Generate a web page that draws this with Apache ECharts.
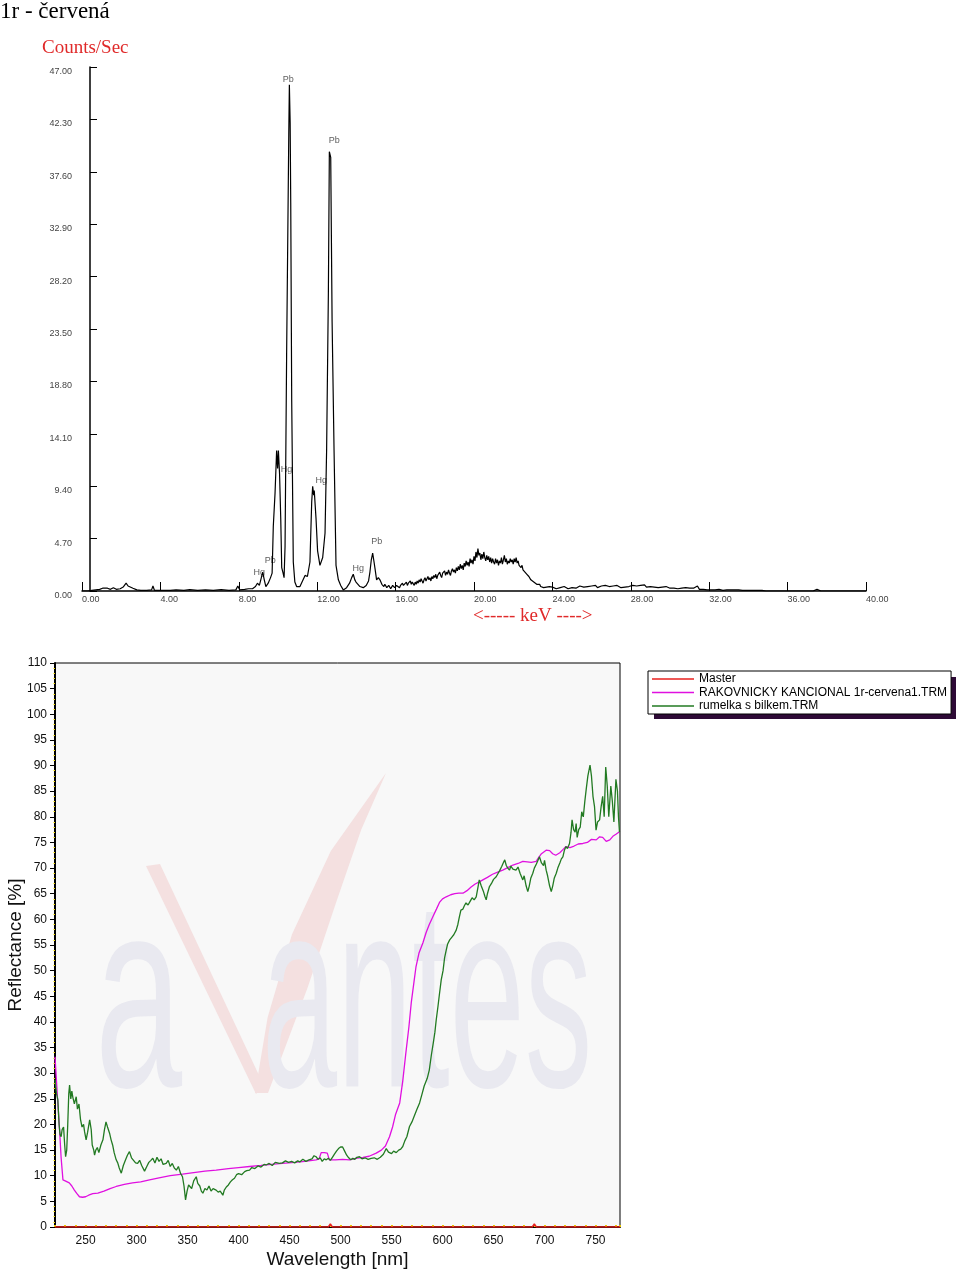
<!DOCTYPE html>
<html><head><meta charset="utf-8">
<script src="https://cdn.jsdelivr.net/npm/echarts@6/dist/echarts.min.js"></script>
<style>html,body{margin:0;padding:0;background:#fff}#c{width:960px;height:1270px}</style>
</head><body><div id="c"></div>
<script>
// ---------------- XRF spectrum (top) ----------------
// peak region: explicit energies (keV) and counts/sec
const xrfKeV = [0.0,0.3,0.5,0.7,0.9,1.05,1.15,1.3,1.45,1.6,1.75,1.95,2.1,2.25,2.35,2.45,2.6,2.8,3.0,3.3,3.55,3.62,3.7,3.95,4.02,4.1,4.5,4.8,5.2,5.5,5.9,6.3,6.7,7.1,7.5,7.85,7.95,8.05,8.3,8.5,8.6,8.7,8.85,8.95,9.05,9.15,9.22,9.3,9.38,9.5,9.62,9.7,9.76,9.85,9.93,9.98,10.02,10.08,10.14,10.19,10.26,10.31,10.36,10.44,10.5,10.55,10.58,10.62,10.65,10.7,10.78,10.86,10.95,11.12,11.25,11.38,11.5,11.63,11.72,11.77,11.82,11.85,11.94,12.02,12.14,12.28,12.4,12.48,12.57,12.62,12.69,12.76,12.86,12.96,13.08,13.2,13.33,13.5,13.65,13.76,13.84,13.92,13.98,14.18,14.35,14.5,14.62,14.69,14.76,14.83,14.9,14.95,15.03,15.12,15.2,15.3];
const xrfCps = [0,0,0.05,0.1,0.15,0.25,0.1,0.25,0.15,0.3,0.15,0.2,0.35,0.7,0.45,0.6,0.25,0.1,0.05,0.05,0.1,0.45,0.05,0.05,0.2,0.05,0.05,0.1,0.05,0.12,0.05,0.1,0.05,0.12,0.05,0.1,0.45,0.1,0.15,0.2,0.35,0.2,0.4,0.7,0.5,1.2,1.7,1.0,0.4,0.7,1.2,1.6,5.8,8.8,12.6,11.0,12.6,10.5,6.5,2.1,1.6,1.2,4.0,21.2,32,41,45.4,42,34.8,17,2.6,0.8,0.4,0.4,0.9,1.4,1.3,2.6,8.0,9.4,8.6,9.0,6.5,3.6,2.3,3.0,5.2,12.6,26.7,39.4,38.9,24.2,12.6,2.3,1.0,0.5,0.1,0.3,0.7,1.2,1.5,1.0,0.8,0.4,0.3,0.5,0.9,1.7,2.8,3.4,2.6,2.0,1.0,1.2,1.0,0.6];
// scatter hump: counts every 0.05 keV from 15.40 to 24.00 keV
const humpStartKeV = 15.4;
const humpStepKeV = 0.05;
const humpCps = [
 0.4,0.6,0.5,0.3,0.3,0.5,0.4,0.2,0.3,0.5,0.4,0.3,
 0.3,0.5,0.4,0.6,0.3,0.5,0.4,0.7,0.5,0.4,0.6,0.8,0.5,0.7,0.6,0.9,0.6,0.8,0.7,0.5,
 0.8,0.6,0.9,0.7,1.0,0.8,1.1,0.9,0.7,1.0,1.2,0.9,1.1,1.3,1.0,1.2,0.9,1.3,1.1,1.4,
 1.2,1.5,1.1,1.4,1.3,1.7,1.4,1.2,1.6,1.5,1.8,1.4,1.7,1.5,1.9,1.6,1.4,1.8,2.0,1.7,
 1.9,1.6,2.1,1.8,2.2,1.9,2.4,2.0,2.3,1.9,2.5,2.2,2.7,2.3,2.6,2.2,2.9,2.5,2.8,2.4,
 3.1,2.7,3.5,3.0,3.8,3.2,3.4,2.8,3.3,2.9,3.5,3.0,2.7,3.2,2.8,3.1,2.6,3.0,2.5,2.9,
 2.6,2.4,2.9,2.5,2.8,2.3,2.7,2.5,3.0,2.4,2.8,3.2,2.6,2.9,2.4,2.7,2.5,2.9,2.6,2.8,
 2.4,2.9,2.6,3.0,2.5,2.7,2.3,2.4,2.1,2.3,1.9,2.0,1.7,1.8,1.5,1.6,1.3,1.2,1.0,1.1,
 0.9,0.8,0.9,0.7,0.6,0.7,0.5,0.6,0.4,0.5,0.4,0.3,0.4,0.3,0.35,0.25,0.3,0.4,0.25,0.3,
 0.35
];
// tail: counts every 0.1 keV from 24.1 to 40.0 keV
const tailStartKeV = 24.1;
const tailStepKeV = 0.1;
const tailCps = [
 0.3,0.2,0.35,0.3,0.25,0.4,0.3,0.2,0.35,0.3,
 0.4,0.25,0.3,0.45,0.3,0.35,0.25,0.4,0.3,0.45,
 0.35,0.5,0.3,0.4,0.45,0.3,0.5,0.35,0.4,0.3,
 0.45,0.35,0.5,0.4,0.3,0.45,0.35,0.5,0.4,0.35,
 0.5,0.35,0.45,0.3,0.5,0.4,0.55,0.35,0.45,0.4,
 0.5,0.35,0.4,0.3,0.45,0.35,0.3,0.4,0.3,0.25,
 0.35,0.25,0.3,0.2,0.3,0.25,0.2,0.3,0.2,0.25,
 0.15,0.25,0.2,0.45,0.15,0.2,0.15,0.2,0.1,0.15,
 0.1,0.15,0.1,0.1,0.15,0.1,0.05,0.1,0.1,0.05,
 0.1,0.05,0.1,0.05,0.1,0.05,0.05,0.1,0.05,0.05,
 0.05,0.1,0.05,0.15,0.05,0,0.05,0.1,0,0,
 0,0,0,0,0,0,0,0,0,0,
 0,0,0,0,0,0,0,0,0,0,
 0,0,0,0,0.15,0,0,0,0,0,
 0,0,0,0,0,0,0,0,0,0,
 0,0,0,0,0,0,0,0,0,0
];
const peakNames = ['Pb','Pb','Hg','Hg','Pb','Hg','Hg','Pb'];
const peakKeV   = [10.58,12.62,10.02,11.85,9.6,9.2,13.84,14.83];
const peakCps   = [45.4,39.4,12.6,9.4,1.6,1.7,1.5,3.4];

// ---------------- Reflectance (bottom) ----------------
const masterNm  = [220,488,490,492,688,690,692,774];
const masterVal = [0,0,0.6,0,0,0.6,0,0];
const sampleNm  = [220,221,222.5,224.5,226,227.8,230,232,234,236.5,239,241.5,244,247,250,253,257,262,268,274,280,288,296,304,312.7,322,333,345,356,367,378,390,400,410.8,422,432,443,455,465,476,479,481,484,487,489,495,502,508.8,515,522,528,535,540,544,548,551,554,558,561,564,567,569.3,572,574,577,580.7,584,587,590.5,594,597,600,603.6,608,612,616,620,624,628,632,636,639.5,644,649,654,659,664,669,674,678.7,683,687,691.8,694,697,701.6,705,708,711,715,718,721,725,729,733,737.6,742,746,750.7,754,757,760.5,764,767,770,773.5];
const sampleVal = [33.2,30,25,18.9,13.5,9.2,9.0,8.8,8.6,8.0,7.2,6.5,5.9,5.8,5.9,6.2,6.5,6.6,7.0,7.5,7.9,8.3,8.6,8.8,9.2,9.6,10.0,10.3,10.6,10.9,11.1,11.4,11.6,11.8,12.0,12.2,12.4,12.6,12.8,13.1,13.3,14.5,14.5,14.4,13.1,13.1,13.2,13.1,13.4,13.6,13.8,14.4,15.0,15.8,17.6,19.5,22,24.2,28.5,33.9,39,43.7,47.8,50.8,53.5,55.4,57.5,59,60.5,62,63.3,64,64.4,64.8,65,65.1,65.1,65.6,66.3,66.9,67.3,67.7,68.2,68.8,69.2,69.6,70.1,70.6,70.9,71.3,71.2,71.1,71.3,72,72.8,73.5,73.4,72.8,72.5,73.0,73.6,74.2,74.0,74.3,74.7,74.8,75.0,75.6,75.5,76.1,76.0,75.2,75.5,76.2,76.6,77.1];
const refNm  = [220,221.5,222.8,224,225,226,227,228.4,229.5,230.4,231.5,232.5,233.5,234.3,235.5,236.5,237.5,239,240.8,242,243.5,245,246.5,248,249,250.5,252,254,255.5,256.5,258,258.8,260,261.5,263,265,267,268.5,270,271.5,273.5,275,276.5,278,280,281.5,283,285,287,289,291,293,295,297,299,301,303,305,307.8,310,312,314,315.9,318,320,322,324,326,329,331,333,335,337,339,341,343,345,346.5,348,349.5,351,352,354,356,358.5,360,362,363.5,365,367,369,371,373,375,378,380,382,384.6,386,388,390,392,394,396,398,400,403,406,408,410.8,413,416,419,422,425,427,430,433,436,440,443,446,449,452,455,458,460,463,466,469,472,474,476,478,480,482,484,486,488,490,492,494,496,498,500,502,504,506,508,510,512,514,516,518.6,521,524,527,530,533,536,539,542,544.8,547,550,552,554.6,557,559,561,563,565,567.6,570,572,575,577.5,580,582,585,587,589,591,592.5,593.8,595.5,597,598.7,600.5,602,603.6,605,607,609,611,613.4,615,616.5,618,620,621.5,623,625,627,629,631,633,634.5,636,638,640,641.5,642.8,644,646,648,650,652.6,654,656,658,659.5,661,662.5,664,665.7,667,669,672,674,676,678.7,680,682,683.6,685,686.5,688.5,690,692,693.5,695,697,699,700,701.6,703,705,706.6,708,709.5,711.5,713,715,716.5,718,719.5,721,722.5,724.5,726,727,728.5,730,731,732,733.5,735,736.5,738,739.5,741,742.5,744.6,746,747.5,749,750.5,752,754,755.5,757,758.5,760,761.5,763,765,766.5,768,770,771.5,772.5,773.5];
const refVal = [28.7,26,24.8,20,18,17.6,19,19.5,16,13.7,15,20,26,27.7,25,26.5,25.3,24,25.4,23,24,21,19.5,20,18.6,17,18.5,20.9,19,16,15,14,15,15.5,14.5,16,17,19,20.5,19.5,18.3,17,16,14.5,13.1,12.5,11.5,10.5,12,13,14,14.7,13.5,13,12.5,12.4,13,12,10.9,11.8,12.6,13,13.4,12.5,13.6,12.8,13.3,12.2,12.4,13,11.8,12.4,11.5,11.1,11.8,10.5,9.8,8,5.3,7,8.2,8.5,7.5,9,9.8,8.5,8,7,6.6,7.5,7.2,8,7,7.5,7.2,6.8,7,6.2,7.2,7.8,8.2,8.8,9.2,9.5,10.2,10.4,10.2,10.8,11,11.1,11.6,11.4,11.9,11.7,12.2,12.1,12.4,12.0,12.6,12.4,12.5,12.9,12.6,12.8,12.5,12.9,12.7,13.2,12.8,13.1,13.3,13.9,13.7,13.2,13.5,12.8,13.3,13.1,13.4,13.0,13.6,14.2,14.8,15.3,15.6,15.6,14.8,14.0,13.5,13.1,13.4,13.2,13.6,13.7,13.3,13.5,13.2,13.4,13.5,13.2,13.6,14.2,15.3,14.6,14.3,14.8,14.5,15.0,15.2,15.7,16.8,17.6,19.6,20.5,21.5,23,24.2,26,27.5,29,30.6,33.5,36,38,40.4,43,45.5,48.2,50,52.5,54,55.2,56,56.5,57,57.9,59,60.5,61.8,62,62.7,63.2,62.8,63.5,64.2,63.8,64.4,66,67.7,66.5,65.5,64.5,63.8,65,66.4,67,67.8,68.3,68.8,69.5,70.3,71,71.6,70.5,70,69.6,70.4,69.8,69.6,70.2,69,67.7,68.5,66.5,65.4,66.5,68,69,70,70.8,71.5,72.2,71,70.5,71.5,69.6,68.5,66.5,65.4,66.5,68,69,70,71,71.8,72.2,73.5,74.2,73.8,74.8,77,79.4,77.5,77,78.7,76,77.5,78,81,80,83,85.6,88,90.1,88,84,82,77.4,79,79.4,82,84,80,89.7,86,80,86,83,79,87.3,85,80,77];
const legendNames = ['Master','RAKOVNICKY KANCIONAL 1r-cervena1.TRM','rumelka s bilkem.TRM'];

// ---------------- build ----------------
const zip = (a, b) => a.map((v, i) => [v, b[i]]);
const xrfData = zip(xrfKeV, xrfCps)
  .concat(humpCps.map((c, i) => [+(humpStartKeV + i * humpStepKeV).toFixed(2), c]))
  .concat(tailCps.map((c, i) => [+(tailStartKeV + i * tailStepKeV).toFixed(2), c]));
const labelOffsets = [[-1,-5],[5,-11],[8,19],[7,-6],[0,-13],[-3,0],[5,-6],[4,-12]];
const peakData = peakNames.map((n, i) => ({ value: [peakKeV[i], peakCps[i], n], label: { offset: labelOffsets[i] } }));

const chart = echarts.init(document.getElementById('c'), null, { renderer: 'canvas' });
const smallFont = '"Liberation Sans", Arial, sans-serif';
const serif = '"Liberation Serif", "Times New Roman", serif';
const wmFont = '270px "Liberation Sans", Arial, sans-serif';
chart.setOption({
  animation: false,
  backgroundColor: '#ffffff',
  graphic: [
    { type: 'text', left: 0, top: 0, style: { text: '1r - červená', font: '23px ' + serif, fill: '#000' } },
    { type: 'text', left: 42, top: 39, style: { text: 'Counts/Sec', font: '19px ' + serif, fill: '#e02a2a' } },
    { type: 'text', left: 473, top: 607, style: { text: '<----- keV ---->', font: '19px ' + serif, fill: '#e02a2a' } },
    // avantes watermark (decoration) in reflectance plot
    { type: 'polygon', silent: true, z: 0,
      shape: { points: [[146,866],[160,864],[264,1086],[256,1094]] }, style: { fill: '#f4e0e0' } },
    { type: 'polygon', silent: true, z: 0,
      shape: { points: [[255,1093],[267.6,1017.4],[291.9,934.5],[330.8,850.9],[386,773],[361.2,829.8],[336.7,900.7],[307.5,987.9],[268,1093]] },
      style: { fill: '#f4e0e0' } },
    { type: 'text', x: 95, y: 1012, scaleX: 0.58, z: 0, silent: true,
      style: { text: 'a', font: wmFont, fill: '#e9e9f0', verticalAlign: 'middle' } },
    { type: 'text', x: 262, y: 1012, scaleX: 0.5, z: 0, silent: true,
      style: { text: 'antes', font: wmFont, fill: '#e9e9f0', verticalAlign: 'middle' } },
    // legend shadow
    { type: 'rect', shape: { x: 654, y: 677, width: 302, height: 42 }, style: { fill: '#2e0a36' }, z: 1 }
  ],
  legend: {
    data: legendNames,
    orient: 'vertical', left: 648, top: 671,
    padding: [2, 4, 2, 4], itemGap: 1.5, itemWidth: 42, itemHeight: 1.5, icon: 'rect',
    backgroundColor: '#ffffff', borderColor: '#000', borderWidth: 1,
    textStyle: { fontFamily: smallFont, fontSize: 12, color: '#000', lineHeight: 12 },
    selectedMode: false, z: 5
  },
  grid: [
    { left: 82, top: 67, width: 784, height: 524, outerBoundsMode: 'none' },
    { left: 55, top: 663, width: 565, height: 564, outerBoundsMode: 'none', show: true, backgroundColor: '#f8f8f8', borderColor: '#000', borderWidth: 1 }
  ],
  xAxis: [
    { type: 'value', gridIndex: 0, min: 0, max: 40, interval: 4,
      axisLine: { lineStyle: { color: '#000', width: 1.5 } },
      axisTick: { inside: true, length: 9, lineStyle: { color: '#000' } },
      axisLabel: { formatter: v => v.toFixed(2), align: 'left', margin: 4, fontFamily: smallFont, fontSize: 9, color: '#444' },
      splitLine: { show: false } },
    { type: 'value', gridIndex: 1, min: 220, max: 774, interval: 10,
      axisLine: { lineStyle: { color: '#000', width: 2 } },
      axisTick: { inside: true, length: 2, lineStyle: { color: '#e8cc00', width: 2 } },
      axisLabel: { formatter: v => (v % 50 === 0 ? String(v) : ''), margin: 8, fontFamily: smallFont, fontSize: 12, color: '#111' },
      splitLine: { show: false },
      name: 'Wavelength [nm]', nameLocation: 'middle', nameGap: 23, nameMoveOverlap: false,
      nameTextStyle: { fontFamily: smallFont, fontSize: 19, color: '#111' } }
  ],
  yAxis: [
    { type: 'value', gridIndex: 0, min: 0, max: 47, interval: 4.7, offset: -8,
      axisLine: { show: true, lineStyle: { color: '#000', width: 1.5 } },
      axisTick: { show: true, inside: true, length: 7, lineStyle: { color: '#000' } },
      axisLabel: { formatter: v => v.toFixed(2), margin: 18, verticalAlign: 'top', fontFamily: smallFont, fontSize: 9, color: '#444' },
      splitLine: { show: false } },
    { type: 'value', gridIndex: 1, min: 0, max: 110, interval: 5,
      axisLine: { show: true, lineStyle: { color: '#000', width: 2 } },
      axisTick: { show: true, length: 5, lineStyle: { color: '#000' } },
      minorTick: { show: true, splitNumber: 5, length: 1.5, lineStyle: { color: '#e8d400', width: 1 } },
      axisLabel: { margin: 8, fontFamily: smallFont, fontSize: 12, color: '#111' },
      splitLine: { show: false },
      name: 'Reflectance [%]', nameLocation: 'middle', nameGap: 30, nameRotate: 90, nameMoveOverlap: false,
      nameTextStyle: { fontFamily: smallFont, fontSize: 19, color: '#111' } }
  ],
  series: [
    { type: 'line', xAxisIndex: 0, yAxisIndex: 0, data: xrfData, symbol: 'none',
      lineStyle: { color: '#000', width: 1.2 }, silent: true },
    { type: 'scatter', xAxisIndex: 0, yAxisIndex: 0, data: peakData, symbolSize: 0,
      label: { show: true, position: 'inside', formatter: p => p.value[2], fontFamily: smallFont, fontSize: 9, color: '#333' } },
    { name: legendNames[1], type: 'line', xAxisIndex: 1, yAxisIndex: 1, data: zip(sampleNm, sampleVal), symbol: 'none',
      itemStyle: { color: '#e010e0' }, lineStyle: { color: '#e010e0', width: 1.3 } },
    { name: legendNames[2], type: 'line', xAxisIndex: 1, yAxisIndex: 1, data: zip(refNm, refVal), symbol: 'none',
      itemStyle: { color: '#227a22' }, lineStyle: { color: '#227a22', width: 1.3 } },
    { name: legendNames[0], type: 'line', xAxisIndex: 1, yAxisIndex: 1, data: zip(masterNm, masterVal), symbol: 'none',
      itemStyle: { color: '#e8201e' }, lineStyle: { color: '#e8201e', width: 1.5 } }
  ]
});
</script></body></html>
